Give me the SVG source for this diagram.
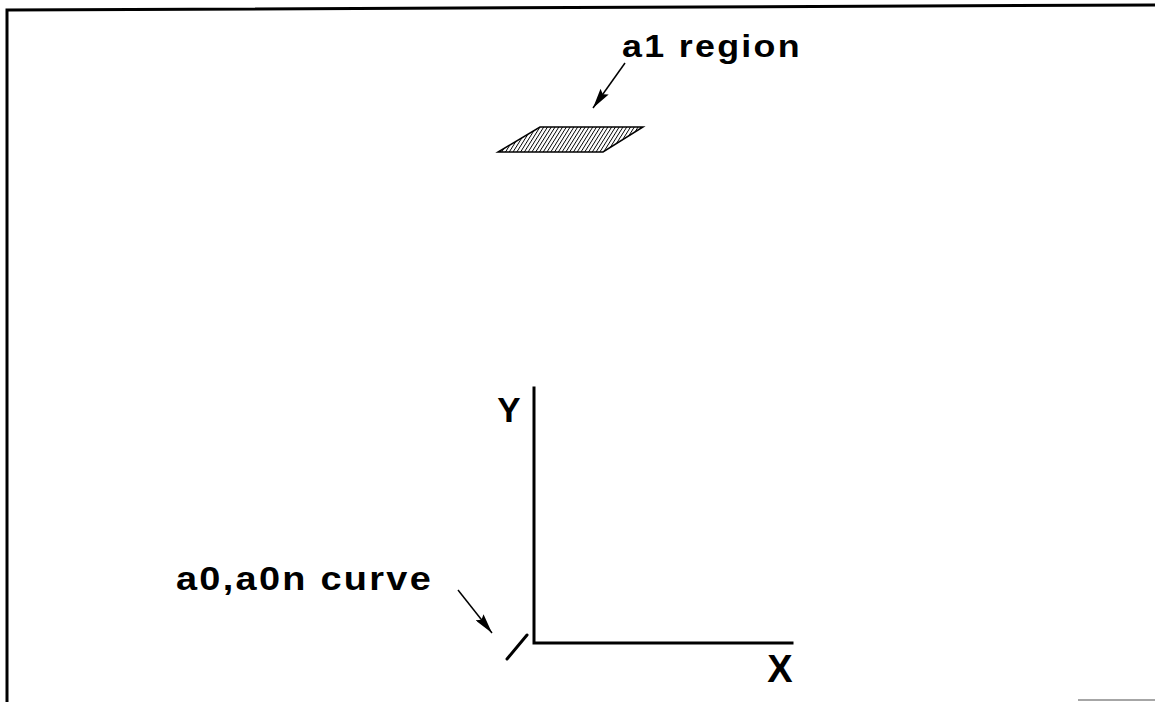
<svg xmlns="http://www.w3.org/2000/svg" width="1155" height="702" viewBox="0 0 1155 702">
<style>
.lbl{font-family:"Liberation Sans",Arial,sans-serif;font-weight:bold;fill:#000}
.ax{stroke:#000;stroke-width:3;fill:none;stroke-linecap:square}
.conn{stroke:#000;stroke-width:1.5;fill:none}
</style>
<defs>
<marker id="ah" viewBox="0 0 20 10" refX="20" refY="5" markerWidth="20" markerHeight="10" markerUnits="userSpaceOnUse" orient="auto">
<path d="M0,0 L20,5 L0,10 L3,5 Z" fill="#000"/>
</marker>
<pattern id="hatch" patternUnits="userSpaceOnUse" width="3.2" height="3.2" patternTransform="rotate(32)">
<rect width="3.2" height="3.2" fill="#fff"/>
<line x1="0" y1="0" x2="0" y2="3.2" stroke="#000" stroke-width="1.7"/>
</pattern>
</defs>
<rect width="1155" height="702" fill="#fff"/>
<g id="frame">
<polyline points="7,702 7,10 1155,5" fill="none" stroke="#000" stroke-width="3"/>
<line x1="1078" y1="700" x2="1155" y2="700" stroke="#888" stroke-width="1.5"/>
</g>
<g id="a1-label"><text class="lbl" x="622" y="57" font-size="31" letter-spacing="2" textLength="180" lengthAdjust="spacingAndGlyphs">a1 region</text></g>
<g id="a1-region"><polygon points="540,127 643,127 603,152 498,152" fill="url(#hatch)" stroke="#000" stroke-width="1.5"/></g>
<g id="axes">
<polyline class="ax" points="534,388 534,643 792,643"/>
<text class="lbl" x="509" y="422" font-size="35" text-anchor="middle">Y</text>
<text class="lbl" x="780" y="682" font-size="38" text-anchor="middle">X</text>
</g>
<g id="a0-curve"><line x1="507" y1="659" x2="527" y2="635" stroke="#000" stroke-width="3" stroke-linecap="round"/></g>
<g id="a0-label"><text class="lbl" x="176" y="590" font-size="33" letter-spacing="2" textLength="257" lengthAdjust="spacingAndGlyphs">a0,a0n curve</text></g>
<g id="connectors">
<line class="conn" x1="625" y1="63" x2="593" y2="108" marker-end="url(#ah)"/>
<line class="conn" x1="458" y1="590" x2="492" y2="633" marker-end="url(#ah)"/>
</g>
</svg>
